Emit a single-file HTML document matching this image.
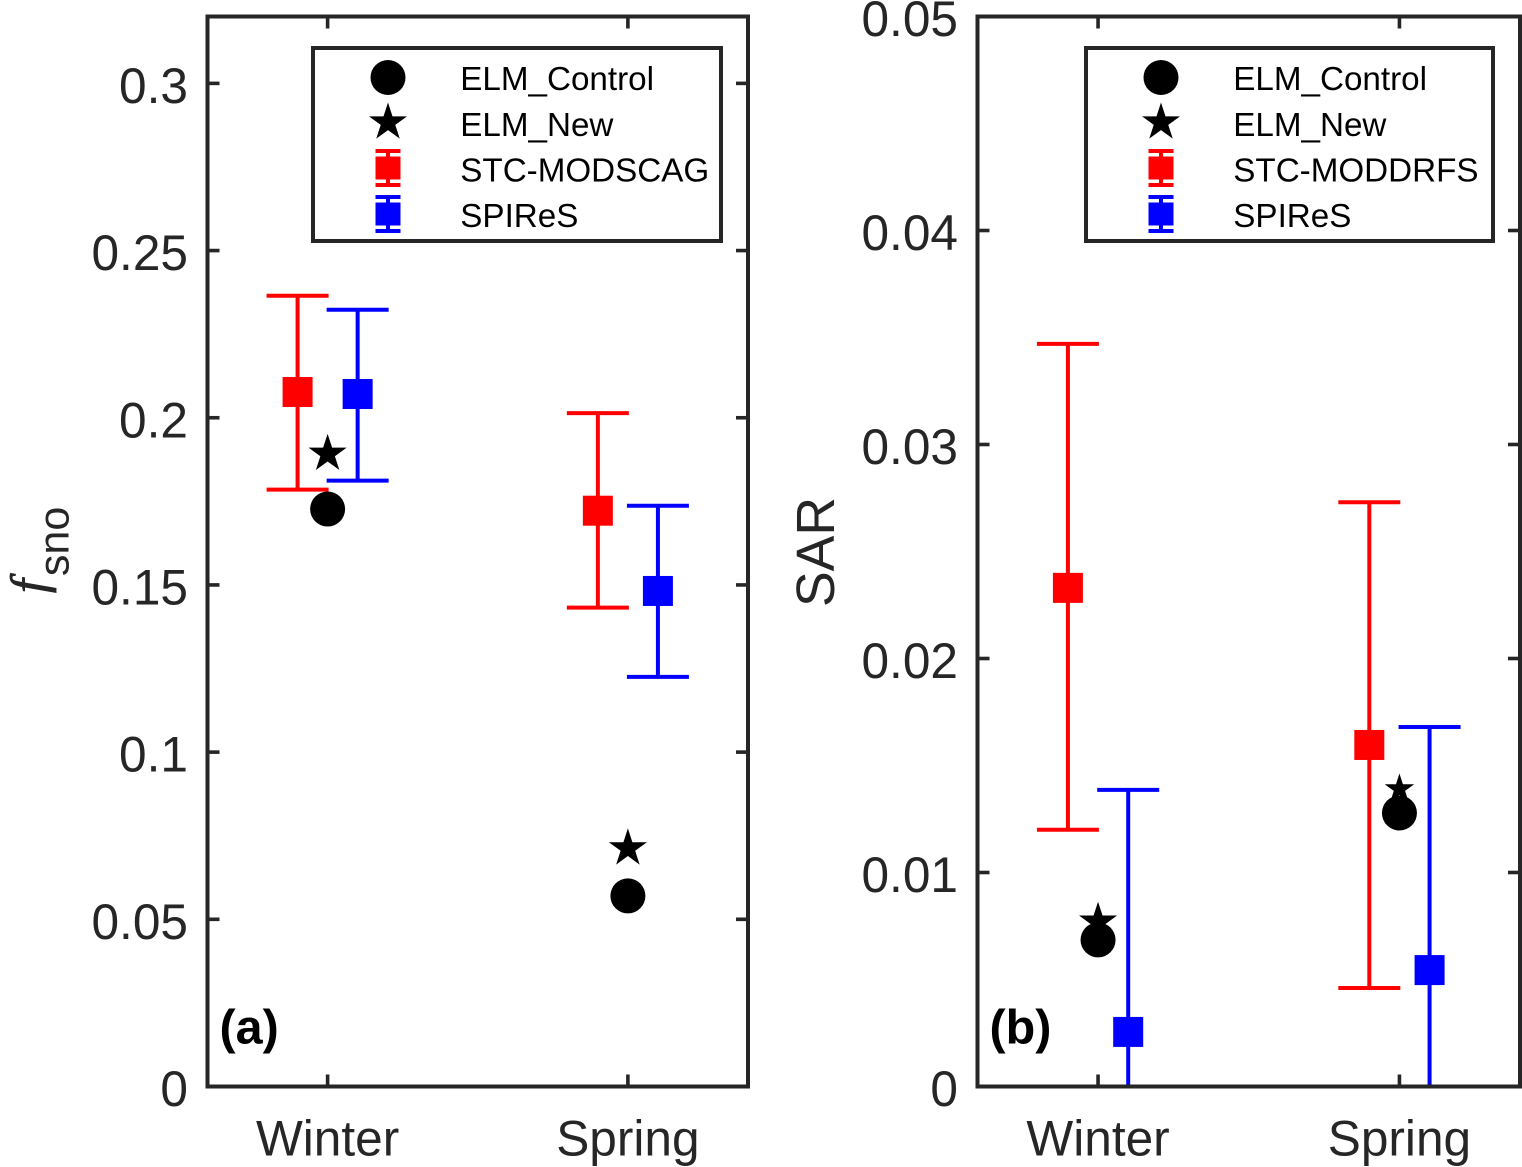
<!DOCTYPE html>
<html lang="en">
<head>
<meta charset="utf-8">
<title>fsno and SAR seasonal comparison</title>
<style>
  html, body { margin: 0; padding: 0; background: #fff; }
  body { width: 1522px; height: 1167px; overflow: hidden; }
  svg { display: block; font-family: "Liberation Sans", sans-serif; }
</style>
</head>
<body>
<svg id="chart" xmlns="http://www.w3.org/2000/svg" width="1522" height="1167" viewBox="0 0 1522 1167">
  <defs>
    <clipPath id="clip-a"><rect x="207.5" y="16.5" width="540.5" height="1070"></rect></clipPath>
    <clipPath id="clip-b"><rect x="977.5" y="16.5" width="543" height="1070"></rect></clipPath>
  </defs>
</svg>
<script>
// Categories and tick labels
const seasons = ['Winter', 'Spring'];
const yTicksA = [0, 0.05, 0.1, 0.15, 0.2, 0.25, 0.3];
const yTickLabelsA = ['0', '0.05', '0.1', '0.15', '0.2', '0.25', '0.3'];
const yTicksB = [0, 0.01, 0.02, 0.03, 0.04, 0.05];
const yTickLabelsB = ['0', '0.01', '0.02', '0.03', '0.04', '0.05'];

// Panel (a) fsno values, [Winter, Spring]
const controlA = [0.1727, 0.0570];
const newA = [0.1892, 0.0712];
const modscagMean = [0.2077, 0.1722];
const modscagHigh = [0.2365, 0.2014];
const modscagLow = [0.1785, 0.1432];
const spiresMeanA = [0.2071, 0.1482];
const spiresHighA = [0.2323, 0.1737];
const spiresLowA = [0.1812, 0.1225];

// Panel (b) SAR values, [Winter, Spring]
const controlB = [0.00685, 0.01278];
const newB = [0.0077, 0.0139];
const moddrfsMean = [0.0233, 0.01596];
const moddrfsHigh = [0.0347, 0.0273];
const moddrfsLow = [0.0120, 0.0046];
const spiresMeanB = [0.00255, 0.00544];
const spiresHighB = [0.01386, 0.0168];
const spiresLowB = [-0.0087, -0.0060];

const NS = 'http://www.w3.org/2000/svg';
const svg = document.getElementById('chart');
const INK = '#262626';

function make(tag, parent, props) {
  const el = document.createElementNS(NS, tag);
  for (const k in props) el.setAttribute(k, props[k]);
  parent.appendChild(el);
  return el;
}

function starPoints(cx, cy, R) {
  const pts = [];
  for (let i = 0; i < 10; i++) {
    const r = i % 2 === 0 ? R : R * 0.382;
    const a = -Math.PI / 2 + i * Math.PI / 5;
    pts.push((cx + r * Math.cos(a)).toFixed(2) + ',' + (cy + r * Math.sin(a)).toFixed(2));
  }
  return pts.join(' ');
}

function drawPanel(p) {
  const xScale = v => p.left + (v - 0.6) / 1.8 * (p.right - p.left);
  const yScale = v => p.bottom - v / p.yMax * (p.bottom - p.top);

  const g = make('g', svg, {});
  
  

  const plot = make('g', g, { 'clip-path': 'url(#clip-' + p.id + ')' });
  
  

  function errorSeries(name, color, offset, mean, high, low) {
    seasons.forEach((season, i) => {
      const x = xScale(i + 1 + offset);
      const sg = make('g', plot, { stroke: color, 'stroke-width': 4, fill: 'none' });
      
      
      make('line', sg, { x1: x, x2: x, y1: yScale(high[i]), y2: yScale(low[i]) });
      make('line', sg, { x1: x - 31, x2: x + 31, y1: yScale(high[i]), y2: yScale(high[i]) });
      make('line', sg, { x1: x - 31, x2: x + 31, y1: yScale(low[i]), y2: yScale(low[i]) });
      make('rect', sg, { x: x - 15, y: yScale(mean[i]) - 15, width: 30, height: 30, fill: color, stroke: 'none' });
    });
  }
  errorSeries(p.stcName, '#ff0000', -0.1, p.stcMean, p.stcHigh, p.stcLow);
  errorSeries('spires', '#0000ff', 0.1, p.spMean, p.spHigh, p.spLow);

  seasons.forEach((season, i) => {
    const c = make('circle', plot, { cx: xScale(i + 1), cy: yScale(p.control[i]), r: 17.5, fill: '#000' });
    
    
    const s = make('polygon', plot, { points: starPoints(xScale(i + 1), yScale(p.newer[i]), p.starR[i]), fill: '#000' });
    
    
  });

  // Axes box
  const box = make('rect', g, { x: p.left, y: p.top, width: p.right - p.left, height: p.bottom - p.top, fill: 'none', stroke: INK, 'stroke-width': 4 });
  
  

  // Y ticks
  p.yTicks.forEach((v, i) => {
    const y = yScale(v);
    const t1 = make('line', g, { x1: p.left, x2: p.left + 12, y1: y, y2: y, stroke: INK, 'stroke-width': 3.6 });
    
    
    const t2 = make('line', g, { x1: p.right, x2: p.right - 12, y1: y, y2: y, stroke: INK, 'stroke-width': 3.6 });
    
    
    const lab = make('text', g, { x: p.labelX, y: y + 19.6, 'text-anchor': 'end', 'font-size': 49.6, fill: INK });
    lab.textContent = p.yLabels[i];
    
    
  });

  // X ticks
  seasons.forEach((season, i) => {
    const x = xScale(i + 1);
    const t1 = make('line', g, { x1: x, x2: x, y1: p.bottom, y2: p.bottom - 12, stroke: INK, 'stroke-width': 3.6 });
    
    
    const t2 = make('line', g, { x1: x, x2: x, y1: p.top, y2: p.top + 12, stroke: INK, 'stroke-width': 3.6 });
    
    
    const lab = make('text', g, { x: x, y: 1155.5, 'text-anchor': 'middle', 'font-size': 49.6, fill: INK });
    lab.textContent = season;
    
    
  });

  // Panel letter
  const letter = make('text', g, { x: p.left + 12, y: 1043.5, 'font-size': 48.5, 'font-weight': 'bold', fill: '#000' });
  letter.textContent = '(' + p.id + ')';
  
  

  // Legend
  const lg = make('g', g, {});
  
  
  const frame = make('rect', lg, { x: p.legX, y: 48, width: p.legW, height: 193, fill: '#fff', stroke: INK, 'stroke-width': 4 });
  
  
  const mx = p.legX + 75;
  const tx = p.legX + 147.3;
  const rows = [78, 124, 169.5, 215];
  const labels = ['ELM_Control', 'ELM_New', p.stcLabel, 'SPIReS'];
  rows.forEach((y, i) => {
    const t = make('text', lg, { x: tx, y: y + 12, 'font-size': 33.2, fill: '#000' });
    t.textContent = labels[i];
    
    
  });
  const lc = make('circle', lg, { cx: mx, cy: 77.5, r: 17.5, fill: '#000' });
  
  
  const ls = make('polygon', lg, { points: starPoints(mx, 122.5, 20), fill: '#000' });
  
  
  [[168, '#ff0000'], [214, '#0000ff']].forEach(item => {
    const y = item[0], col = item[1];
    const e = make('g', lg, { stroke: col, 'stroke-width': 4, fill: 'none' });
    
    
    make('line', e, { x1: mx, x2: mx, y1: y - 17, y2: y + 17 });
    make('line', e, { x1: mx - 12.5, x2: mx + 12.5, y1: y - 17, y2: y - 17 });
    make('line', e, { x1: mx - 12.5, x2: mx + 12.5, y1: y + 17, y2: y + 17 });
    make('rect', e, { x: mx - 12.5, y: y - 11.5, width: 25, height: 23, fill: col, stroke: 'none' });
  });
}

drawPanel({
  id: 'a', left: 207.5, right: 748, top: 16.5, bottom: 1086.5, yMax: 0.32, labelX: 188,
  yTicks: yTicksA, yLabels: yTickLabelsA,
  control: controlA, newer: newA, starR: [20, 20],
  stcName: 'stc-modscag', stcLabel: 'STC-MODSCAG',
  stcMean: modscagMean, stcHigh: modscagHigh, stcLow: modscagLow,
  spMean: spiresMeanA, spHigh: spiresHighA, spLow: spiresLowA,
  legX: 313, legW: 408
});
drawPanel({
  id: 'b', left: 977.5, right: 1520, top: 16.5, bottom: 1086.5, yMax: 0.05, labelX: 958,
  yTicks: yTicksB, yLabels: yTickLabelsB,
  control: controlB, newer: newB, starR: [20, 15.5],
  stcName: 'stc-moddrfs', stcLabel: 'STC-MODDRFS',
  stcMean: moddrfsMean, stcHigh: moddrfsHigh, stcLow: moddrfsLow,
  spMean: spiresMeanB, spHigh: spiresHighB, spLow: spiresLowB,
  legX: 1086, legW: 407
});

// Y axis titles
const yTitleA = make('text', svg, { transform: 'translate(45.5 593) rotate(-90)', fill: INK });


const fPart = make('tspan', yTitleA, { 'font-size': 50, 'font-style': 'italic', 'font-family': '"Liberation Serif", serif', stroke: INK, 'stroke-width': 0.9 });
fPart.textContent = 'f';
const subPart = make('tspan', yTitleA, { 'font-size': 43, dy: 23, dx: 3 });
subPart.textContent = 'sno';

const yTitleB = make('text', svg, { transform: 'translate(834 552) rotate(-90)', 'text-anchor': 'middle', 'font-size': 53.5, fill: INK });
yTitleB.textContent = 'SAR';


</script>
</body>
</html>
